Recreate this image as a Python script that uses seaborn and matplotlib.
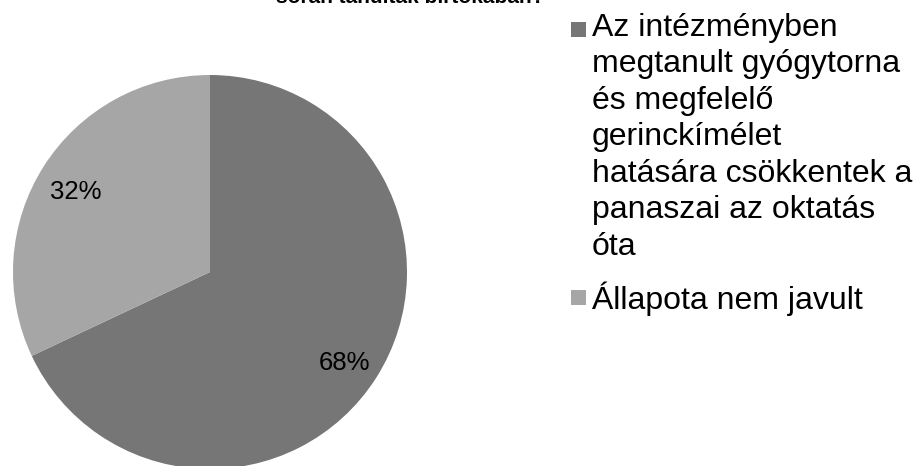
import matplotlib
matplotlib.use("Agg")
import matplotlib.pyplot as plt
from matplotlib.patches import Rectangle
import seaborn as sns

# adatok
labels = [
    "Az intézményben\nmegtanult gyógytorna\nés megfelelő\ngerinckímélet\nhatására csökkentek a\npanaszai az oktatás\nóta",
    "Állapota nem javult",
]
values = [68, 32]
colors = ["#767676", "#a6a6a6"]
title = "során tanultak birtokában?"

sns.set_theme(style="white")
plt.rcParams['font.family'] = ['Liberation Sans', 'DejaVu Sans']

W, H = 919, 466
fig = plt.figure(figsize=(W / 100, H / 100), dpi=100)

# pie area: center (210, 272) px, radius 197 px
cx, cy, r = 210, 272, 197
ax = fig.add_axes([(cx - r) / W, (H - cy - r) / H, 2 * r / W, 2 * r / H])
wedges, texts, autotexts = ax.pie(values, colors=colors, startangle=90, counterclock=False,
                                  autopct='%.0f%%', pctdistance=0.81,
                                  wedgeprops=dict(linewidth=0),
                                  textprops=dict(fontsize=18.5, color="black"))
ax.set_xlim(-1, 1)
ax.set_ylim(-1, 1)
ax.set_aspect("equal")
ax.axis("off")
for t in autotexts:
    x, y = t.get_position()
    t.set_position((x, y - 0.03))

# title (cut off at the top in the original)
fig.text(410 / W, 1 - 3 / H, title, ha="center", va="baseline",
         fontsize=15, fontweight="bold", color="black")

# legend drawn by hand so the square sits at the first line
tops = [13, 281]
for lab, col, top in zip(labels, colors, tops):
    fig.add_artist(Rectangle((571 / W, 1 - (top + 24) / H), 15 / W, 15 / H,
                             transform=fig.transFigure, facecolor=col, edgecolor="none"))
    fig.text(592 / W, 1 - top / H, lab, ha="left", va="top", fontsize=23,
             color="black", linespacing=1.28)

fig.savefig("out.png", dpi=100)
